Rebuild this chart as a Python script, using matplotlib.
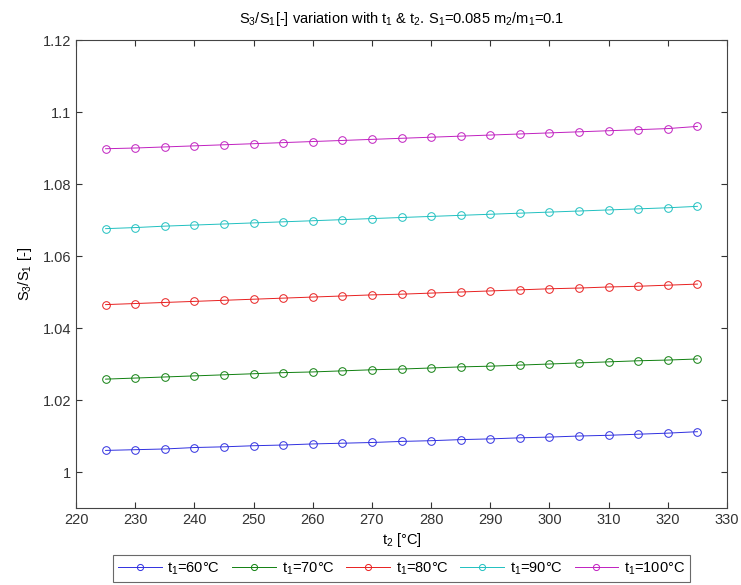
import numpy as np
import matplotlib
matplotlib.use('Agg')
import matplotlib.pyplot as plt

plt.rcParams['font.family'] = ['Liberation Sans', 'DejaVu Sans']
plt.rcParams['mathtext.default'] = 'regular'

# t2 values [ºC]
t2 = [225, 230, 235, 240, 245, 250, 255, 260, 265, 270, 275,
      280, 285, 290, 295, 300, 305, 310, 315, 320, 325]

# S3/S1 for each t1
s_60 = [1.0060, 1.0062, 1.0064, 1.0068, 1.0070, 1.0073, 1.0075, 1.0078, 1.0080, 1.0082, 1.0085,
        1.0087, 1.0090, 1.0092, 1.0095, 1.0097, 1.0100, 1.0102, 1.0105, 1.0108, 1.0112]
s_70 = [1.0258, 1.0261, 1.0264, 1.0267, 1.0270, 1.0273, 1.0276, 1.0278, 1.0281, 1.0284, 1.0286,
        1.0289, 1.0292, 1.0294, 1.0297, 1.0300, 1.0303, 1.0306, 1.0309, 1.0311, 1.0314]
s_80 = [1.0465, 1.0468, 1.0471, 1.0474, 1.0477, 1.0480, 1.0483, 1.0486, 1.0489, 1.0492, 1.0494,
        1.0497, 1.0500, 1.0503, 1.0506, 1.0509, 1.0511, 1.0514, 1.0516, 1.0519, 1.0522]
s_90 = [1.0676, 1.0679, 1.0683, 1.0686, 1.0689, 1.0692, 1.0695, 1.0698, 1.0701, 1.0704, 1.0707,
        1.0710, 1.0713, 1.0716, 1.0719, 1.0722, 1.0725, 1.0728, 1.0731, 1.0734, 1.0738]
s_100 = [1.0898, 1.0900, 1.0903, 1.0906, 1.0909, 1.0912, 1.0915, 1.0918, 1.0921, 1.0924, 1.0927,
         1.0930, 1.0933, 1.0936, 1.0939, 1.0942, 1.0945, 1.0948, 1.0951, 1.0954, 1.0960]

labels = ['$t_1$=60°C', '$t_1$=70°C', '$t_1$=80°C', '$t_1$=90°C', '$t_1$=100°C']
colors = ['#3030e0', '#108010', '#e82020', '#20c0c0', '#c020c0']

fig = plt.figure(figsize=(7.41, 5.85), dpi=100)
ax = fig.add_axes([0.1026, 0.1316, 0.8785, 0.8])

for s, lab, c in zip([s_60, s_70, s_80, s_90, s_100], labels, colors):
    ax.plot(t2, s, color=c, lw=0.7, marker='o', ms=5.5, mfc='none', mew=0.7, label=lab)

ax.set_xlim(220, 330)
ax.set_ylim(0.99, 1.12)
ax.set_xticks(np.arange(220, 331, 10))
ax.set_yticks([1, 1.02, 1.04, 1.06, 1.08, 1.1, 1.12])
ax.set_yticklabels(['1', '1.02', '1.04', '1.06', '1.08', '1.1', '1.12'])
ax.tick_params(direction='in', top=True, right=True, labelsize=10.5, length=4, colors='#333333')
for sp in ax.spines.values():
    sp.set_color('#444444')
    sp.set_linewidth(0.8)

ax.set_title('$S_3/S_1$[-] variation with $t_1$ & $t_2$. $S_1$=0.085 $m_2/m_1$=0.1', fontsize=10.5, pad=12)
ax.set_xlabel('$t_2$ [°C]', fontsize=10.5, labelpad=3)
ax.set_ylabel('$S_3/S_1$ [-]', fontsize=10.5, labelpad=6)

leg = ax.legend(loc='upper center', bbox_to_anchor=(0.5, -0.085), ncol=5, fontsize=10.5,
                frameon=True, fancybox=False, edgecolor='#444444', handlelength=3.0,
                handletextpad=0.4, columnspacing=0.8, borderpad=0.35, markerscale=0.8)
leg.get_frame().set_linewidth(0.8)

fig.savefig('out.png', dpi=100)
